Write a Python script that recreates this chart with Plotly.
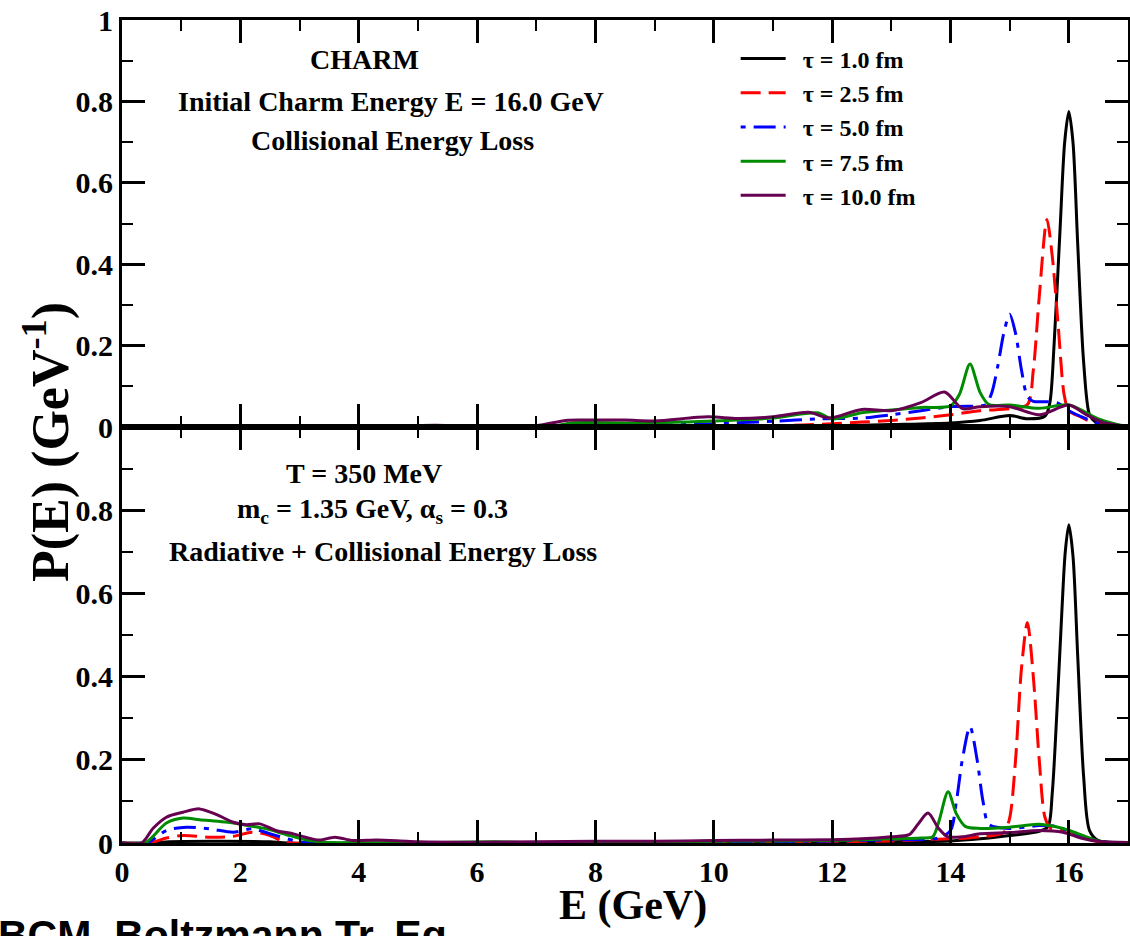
import plotly.graph_objects as go

# ---------------- data ----------------
tau_labels = ["τ = 1.0 fm", "τ = 2.5 fm", "τ = 5.0 fm", "τ = 7.5 fm", "τ = 10.0 fm"]

# Top panel: collisional energy loss
top_E_t1 = [0, 11, 12, 13, 14, 14.5, 15.0, 15.3, 15.6, 15.68, 15.75, 15.85, 15.93, 16.0, 16.07, 16.15, 16.25, 16.35, 16.45, 16.6, 17]
top_P_t1 = [0, 0, 0.003, 0.006, 0.01, 0.016, 0.028, 0.02, 0.027, 0.06, 0.2, 0.48, 0.7, 0.775, 0.7, 0.45, 0.16, 0.03, 0.012, 0.004, 0]

top_E_t2 = [0, 10, 11, 11.5, 12, 12.5, 13, 13.5, 14, 14.5, 15, 15.3, 15.4, 15.5, 15.63, 15.72, 15.82, 15.92, 16.0, 16.2, 16.5, 17]
top_P_t2 = [0, 0, 0.003, 0.005, 0.008, 0.012, 0.016, 0.022, 0.03, 0.04, 0.045, 0.055, 0.14, 0.32, 0.51, 0.42, 0.25, 0.08, 0.04, 0.025, 0.006, 0]

top_E_t3 = [0, 8, 9, 10, 11, 11.8, 12.5, 13, 13.5, 14, 14.5, 14.6, 14.7, 14.8, 14.9, 15.0, 15.1, 15.2, 15.3, 15.4, 15.6, 15.8, 16.0, 16.3, 16.6, 17]
top_P_t3 = [0, 0, 0.004, 0.008, 0.014, 0.02, 0.022, 0.03, 0.04, 0.05, 0.052, 0.055, 0.085, 0.15, 0.23, 0.277, 0.23, 0.14, 0.075, 0.063, 0.062, 0.06, 0.04, 0.02, 0.005, 0]

top_E_t4 = [0, 6.5, 7.3, 7.6, 8.5, 9.5, 10, 11, 11.75, 12.0, 12.5, 13, 13.5, 14.0, 14.15, 14.33, 14.5, 14.65, 15, 15.5, 16, 16.5, 16.8, 17]
top_P_t4 = [0, 0, 0.003, 0.01, 0.01, 0.012, 0.015, 0.022, 0.035, 0.02, 0.035, 0.042, 0.048, 0.052, 0.08, 0.155, 0.085, 0.055, 0.054, 0.046, 0.054, 0.02, 0.007, 0.002]

top_E_t5 = [0, 4, 5.3, 6.1, 7.0, 7.5, 7.8, 8.5, 9.0, 9.9, 10.4, 11.0, 11.6, 11.95, 12.5, 13.0, 13.5, 13.9, 14.2, 14.5, 15.0, 15.5, 16.0, 16.3, 16.6, 17]
top_P_t5 = [0, 0, 0.004, 0.001, 0.003, 0.016, 0.017, 0.017, 0.015, 0.025, 0.021, 0.025, 0.036, 0.022, 0.043, 0.04, 0.06, 0.086, 0.045, 0.05, 0.05, 0.03, 0.054, 0.03, 0.01, 0.002]

# Bottom panel: radiative + collisional energy loss
bot_E_t1 = [0, 0.5, 0.8, 1.5, 2.5, 2.8, 12, 13, 14, 14.5, 15, 15.5, 15.65, 15.72, 15.8, 15.88, 15.94, 16.0, 16.07, 16.15, 16.25, 16.35, 16.5, 17]
bot_P_t1 = [0, 0, 0.003, 0.004, 0.003, 0, 0.001, 0.003, 0.005, 0.01, 0.018, 0.028, 0.04, 0.12, 0.32, 0.55, 0.7, 0.765, 0.69, 0.45, 0.16, 0.03, 0.006, 0]

bot_E_t2 = [0, 0.47, 0.75, 1.03, 1.48, 1.88, 2.2, 2.5, 2.72, 2.9, 8, 10, 12, 13, 13.5, 14, 14.5, 14.9, 15.0, 15.1, 15.2, 15.3, 15.4, 15.5, 15.6, 15.7, 16.0, 16.2, 16.5, 17]
bot_P_t2 = [0, 0, 0.012, 0.018, 0.014, 0.016, 0.026, 0.018, 0.004, 0, 0, 0.001, 0.003, 0.005, 0.008, 0.01, 0.015, 0.025, 0.06, 0.2, 0.42, 0.53, 0.4, 0.2, 0.06, 0.035, 0.03, 0.015, 0.003, 0]

bot_E_t3 = [0, 0.42, 0.75, 1.09, 1.48, 1.88, 2.2, 2.55, 2.9, 3.1, 6, 10, 11, 12, 13, 13.8, 14.0, 14.1, 14.2, 14.33, 14.45, 14.55, 14.65, 15.0, 15.5, 15.8, 16.1, 16.3, 16.6, 17]
bot_P_t3 = [0, 0, 0.03, 0.038, 0.034, 0.026, 0.034, 0.02, 0.006, 0.001, 0.001, 0.002, 0.003, 0.005, 0.008, 0.012, 0.03, 0.1, 0.2, 0.28, 0.2, 0.1, 0.045, 0.035, 0.042, 0.04, 0.02, 0.012, 0.003, 0]

bot_E_t4 = [0, 0.39, 0.75, 1.03, 1.31, 1.88, 2.05, 2.44, 2.78, 3.1, 3.4, 5, 6.3, 7, 9, 10, 11, 12, 13, 13.5, 13.7, 13.8, 13.96, 14.1, 14.25, 14.5, 15.0, 15.5, 15.9, 16.2, 16.5, 17]
bot_P_t4 = [0, 0, 0.048, 0.06, 0.056, 0.048, 0.044, 0.034, 0.02, 0.008, 0.002, 0.001, 0.003, 0.001, 0.002, 0.004, 0.005, 0.006, 0.01, 0.012, 0.015, 0.05, 0.123, 0.07, 0.04, 0.035, 0.038, 0.045, 0.035, 0.02, 0.005, 0]

bot_E_t5 = [0, 0.33, 0.53, 0.75, 1.03, 1.31, 1.6, 1.88, 2.1, 2.33, 2.6, 2.9, 3.1, 3.34, 3.6, 3.9, 4.3, 4.7, 5, 6, 7, 8, 9, 10, 11, 12, 12.5, 13.0, 13.3, 13.45, 13.62, 13.8, 13.95, 14.2, 14.5, 15.0, 15.5, 15.9, 16.2, 16.5, 17]
bot_P_t5 = [0, 0, 0.036, 0.062, 0.074, 0.082, 0.068, 0.05, 0.044, 0.046, 0.03, 0.022, 0.014, 0.007, 0.014, 0.006, 0.007, 0.005, 0.003, 0.002, 0.003, 0.004, 0.004, 0.006, 0.007, 0.008, 0.01, 0.015, 0.02, 0.045, 0.072, 0.035, 0.015, 0.015, 0.022, 0.025, 0.03, 0.026, 0.012, 0.004, 0.001]

x_tickvals = [0, 2, 4, 6, 8, 10, 12, 14, 16]
top_y_tickvals = [0, 0.2, 0.4, 0.6, 0.8, 1]
top_y_ticktext = ["0", "0.2", "0.4", "0.6", "0.8", "1"]
bot_y_tickvals = [0, 0.2, 0.4, 0.6, 0.8]
bot_y_ticktext = ["0", "0.2", "0.4", "0.6", "0.8"]

# ---------------- styling ----------------
colors = ["#000000", "#ff0000", "#0000ff", "#008c00", "#660050"]
dashes = ["solid", "20px,8px", "5px,8px,22px,8px", "solid", "solid"]
SERIF = "Liberation Serif"

top_data = [(top_E_t1, top_P_t1), (top_E_t2, top_P_t2), (top_E_t3, top_P_t3), (top_E_t4, top_P_t4), (top_E_t5, top_P_t5)]
bot_data = [(bot_E_t1, bot_P_t1), (bot_E_t2, bot_P_t2), (bot_E_t3, bot_P_t3), (bot_E_t4, bot_P_t4), (bot_E_t5, bot_P_t5)]

fig = go.Figure()
for i, (E, P) in enumerate(top_data):
    fig.add_trace(go.Scatter(x=E, y=P, mode="lines", name="\u2002" + tau_labels[i], xaxis="x", yaxis="y",
                             line=dict(color=colors[i], width=3, dash=dashes[i], shape="spline", smoothing=0.8),
                             showlegend=True))
for i, (E, P) in enumerate(bot_data):
    fig.add_trace(go.Scatter(x=E, y=P, mode="lines", name=tau_labels[i], xaxis="x2", yaxis="y2",
                             line=dict(color=colors[i], width=3, dash=dashes[i], shape="spline", smoothing=0.8),
                             showlegend=False))

# empty helper traces so that the frame axes on the top / right sides are drawn
for xa, ya in [("x3", "y"), ("x4", "y2"), ("x", "y3"), ("x2", "y4")]:
    fig.add_trace(go.Scatter(x=[None], y=[None], xaxis=xa, yaxis=ya, showlegend=False, hoverinfo="skip"))

split = 416 / 823
tickfont = dict(family=SERIF, size=30, color="black", weight="bold")
common_x = dict(range=[0, 17], tickvals=x_tickvals, ticks="inside", ticklen=23, tickwidth=3, tickcolor="black",
                showline=True, linewidth=3, linecolor="black", showgrid=False, zeroline=False,
                minor=dict(ticks="inside", ticklen=11, tickwidth=2, tickcolor="black", dtick=1, tick0=0, showgrid=False),
                tickfont=tickfont, automargin=False)
common_y = dict(range=[0, 1], ticks="inside", ticklen=23, tickwidth=3, tickcolor="black",
                showline=True, linewidth=3, linecolor="black", showgrid=False, zeroline=False,
                minor=dict(ticks="inside", ticklen=11, tickwidth=2, tickcolor="black", dtick=0.1, tick0=0, showgrid=False),
                tickfont=tickfont, automargin=False)

fig.update_layout(
    width=1130, height=936,
    margin=dict(l=122, r=2, t=20, b=93),
    paper_bgcolor="white", plot_bgcolor="white",
    xaxis=dict(common_x, anchor="y", showticklabels=False),
    xaxis2=dict(common_x, anchor="y2"),
    xaxis3=dict(common_x, anchor="y", overlaying="x", side="top", showticklabels=False),
    xaxis4=dict(common_x, anchor="y2", overlaying="x2", side="top", showticklabels=False),
    yaxis=dict(common_y, domain=[split, 1], anchor="x", tickvals=top_y_tickvals, ticktext=top_y_ticktext),
    yaxis2=dict(common_y, domain=[0, split], anchor="x2", tickvals=bot_y_tickvals, ticktext=bot_y_ticktext),
    yaxis3=dict(common_y, anchor="x", overlaying="y", side="right", tickvals=top_y_tickvals, showticklabels=False),
    yaxis4=dict(common_y, anchor="x2", overlaying="y2", side="right", tickvals=bot_y_tickvals + [1], showticklabels=False),
    legend=dict(x=0.61, y=0.98, xanchor="left", yanchor="top", bgcolor="rgba(0,0,0,0)",
                font=dict(family=SERIF, size=24, color="black", weight="bold"), itemwidth=45,
                tracegroupgap=0),
    showlegend=True,
)

ann_font = dict(family=SERIF, size=28, color="black", weight="bold")

def px_x(px):
    return (px - 122) / 1006

def px_y(py):
    return (843 - py) / 823

texts = [
    ("CHARM", 364, 60),
    ("Initial Charm Energy E = 16.0 GeV", 391, 101),
    ("Collisional Energy Loss", 392, 141),
    ("T = 350 MeV", 364, 473),
    ("m<sub>c</sub> = 1.35 GeV, α<sub>s</sub> = 0.3", 372, 510),
    ("Radiative + Collisional Energy Loss", 383, 552),
]
for t, x, y in texts:
    fig.add_annotation(text=t, x=px_x(x), y=px_y(y), xref="paper", yref="paper",
                       xanchor="center", yanchor="middle", showarrow=False, font=ann_font)

# axis titles
fig.add_annotation(text="P(E) (GeV<sup>-1</sup>)", x=px_x(47), y=px_y(442), xref="paper", yref="paper",
                   xanchor="center", yanchor="middle", showarrow=False, textangle=-90,
                   font=dict(family=SERIF, size=52, color="black", weight="bold"))
fig.add_annotation(text="E (GeV)", x=px_x(633), y=px_y(905), xref="paper", yref="paper",
                   xanchor="center", yanchor="middle", showarrow=False,
                   font=dict(family=SERIF, size=42, color="black", weight="bold"))
fig.add_annotation(text="BCM, Boltzmann Tr. Eq.", x=px_x(-4), y=px_y(910), xref="paper", yref="paper",
                   xanchor="left", yanchor="top", showarrow=False,
                   font=dict(family="Liberation Sans", size=41, color="black", weight="bold"))

fig.write_html("out.html", config={"displayModeBar": False},
               post_script="document.body.style.margin='0';document.body.style.overflow='hidden';")
